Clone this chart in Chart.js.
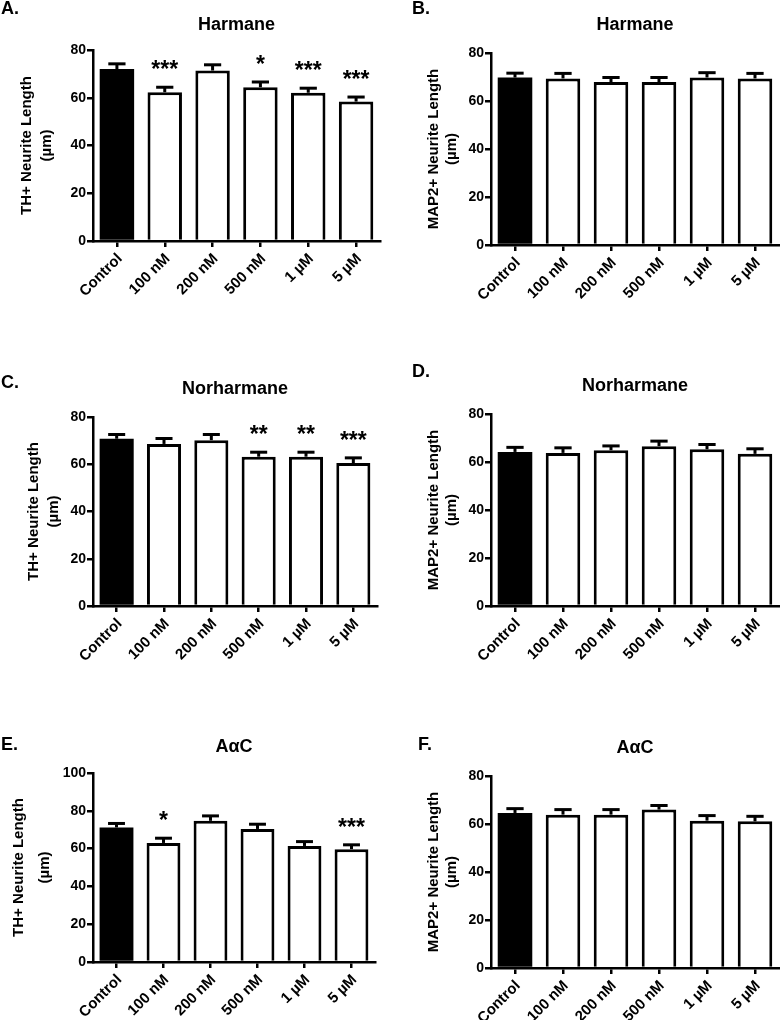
<!DOCTYPE html>
<html><head><meta charset="utf-8">
<script src="https://cdn.jsdelivr.net/npm/chart.js@4.4.1/dist/chart.umd.min.js"></script>
<style>
html,body{margin:0;padding:0;background:#fff;}
#wrap{position:relative;width:780px;height:1020px;overflow:hidden;}
canvas{position:absolute;}
</style></head><body>
<div id="wrap">
<canvas id="cA" width="390" height="335" style="left:0;top:0"></canvas>
<canvas id="cB" width="390" height="335" style="left:390px;top:0"></canvas>
<canvas id="cC" width="390" height="335" style="left:0;top:340px"></canvas>
<canvas id="cD" width="390" height="335" style="left:390px;top:340px"></canvas>
<canvas id="cE" width="390" height="340" style="left:0;top:680px"></canvas>
<canvas id="cF" width="390" height="340" style="left:390px;top:680px"></canvas>
</div>
<script>
// ---- data ----
const categories = ['Control', '100 nM', '200 nM', '500 nM', '1 µM', '5 µM'];

const harmaneTH       = [72.0, 62.3, 71.4, 64.4, 62.1, 58.4];
const harmaneTHsem    = [2.2, 2.1, 2.4, 2.2, 1.9, 1.9];
const harmaneTHsig    = ['', '***', '', '*', '***', '***'];

const harmaneMAP2     = [69.8, 69.4, 67.9, 67.9, 69.8, 69.4];
const harmaneMAP2sem  = [1.8, 2.1, 1.9, 1.9, 2.0, 2.1];
const harmaneMAP2sig  = ['', '', '', '', '', ''];

const norharmaneTH    = [70.8, 68.6, 70.2, 63.2, 63.2, 60.5];
const norharmaneTHsem = [1.8, 2.3, 2.4, 1.9, 1.9, 2.2];
const norharmaneTHsig = ['', '', '', '**', '**', '***'];

const norharmaneMAP2    = [64.2, 63.8, 64.9, 66.6, 65.3, 63.4];
const norharmaneMAP2sem = [1.9, 2.1, 1.8, 2.1, 2.0, 2.1];
const norharmaneMAP2sig = ['', '', '', '', '', ''];

const aacTH     = [71.2, 63.0, 74.7, 70.4, 61.4, 59.7];
const aacTHsem  = [2.1, 2.5, 2.6, 2.5, 2.3, 2.3];
const aacTHsig  = ['', '*', '', '', '', '***'];

const aacMAP2    = [64.6, 63.9, 63.9, 66.0, 61.4, 61.1];
const aacMAP2sem = [1.8, 2.1, 2.1, 1.7, 2.1, 2.1];
const aacMAP2sig = ['', '', '', '', '', ''];

const panelLabels = ['A.', 'B.', 'C.', 'D.', 'E.', 'F.'];
const panelTitles = ['Harmane', 'Harmane', 'Norharmane', 'Norharmane', 'AαC', 'AαC'];
const yTitleTH   = ['TH+ Neurite Length', '(µm)'];
const yTitleMAP2 = ['MAP2+ Neurite Length', '(µm)'];
const yMaxTicks  = [80, 80, 80, 80, 100, 80];
const yStep = 20;

// ---- drawing ----
const FONT = '"Liberation Sans", Arial, Helvetica, sans-serif';

const annotPlugin = {
  id: 'annot',
  afterDatasetsDraw(chart, args, opts) {
    const ctx = chart.ctx;
    const meta = chart.getDatasetMeta(0);
    const ys = chart.scales.y;
    const vals = chart.data.datasets[0].data;
    ctx.save();
    ctx.strokeStyle = '#000';
    ctx.fillStyle = '#000';
    ctx.lineWidth = 3;
    meta.data.forEach((bar, i) => {
      const yTop = ys.getPixelForValue(vals[i] + opts.sem[i]);
      const half = bar.width * 0.25;
      ctx.beginPath();
      ctx.moveTo(bar.x, bar.y);
      ctx.lineTo(bar.x, yTop);
      ctx.stroke();
      ctx.beginPath();
      ctx.moveTo(bar.x - half, yTop);
      ctx.lineTo(bar.x + half, yTop);
      ctx.stroke();
      if (opts.sig[i]) {
        ctx.font = 'bold 23px ' + FONT;
        ctx.textAlign = 'center';
        ctx.textBaseline = 'alphabetic';
        ctx.fillText(opts.sig[i], bar.x, yTop - 10);
      }
    });
    const ca = chart.chartArea;
    ctx.font = 'bold 18px ' + FONT;
    ctx.textAlign = 'center';
    ctx.textBaseline = 'middle';
    ctx.fillText(opts.title, (ca.left + ca.right) / 2, opts.titleY);
    ctx.textAlign = 'left';
    ctx.fillText(opts.label, opts.labelX, opts.labelY);
    ctx.restore();
  }
};

function makePanel(id, idx, values, sem, sig, yTitle, L) {
  const colors = values.map((v, i) => i === 0 ? '#000' : '#fff');
  const borders = values.map((v, i) => i === 0 ? 0 : 3);
  new Chart(document.getElementById(id), {
    type: 'bar',
    data: {
      labels: categories,
      datasets: [{
        data: values,
        backgroundColor: colors,
        borderColor: '#000',
        borderWidth: borders,
        borderSkipped: 'start',
        inflateAmount: 0,
        barPercentage: 0.72,
        categoryPercentage: 1.0
      }]
    },
    options: {
      responsive: false,
      animation: false,
      events: [],
      layout: { padding: { top: L.top, right: L.right, left: 0, bottom: 0 } },
      plugins: {
        legend: { display: false },
        tooltip: { enabled: false },
        annot: { sem: sem, sig: sig, title: panelTitles[idx], titleY: L.titleY,
                 label: panelLabels[idx], labelX: L.labelX, labelY: L.labelY }
      },
      scales: {
        x: {
          offset: true,
          grid: { display: true, offset: false, drawOnChartArea: false, drawTicks: true,
                  tickLength: 6, lineWidth: 2.5, color: '#000' },
          border: { display: true, width: 2.5, color: '#000' },
          ticks: { color: '#000', font: { family: FONT, size: 15, weight: 'bold' },
                   minRotation: 45, maxRotation: 45, autoSkip: false, padding: 3, labelOffset: 3 },
          afterFit(s) { s.height = L.xh; }
        },
        y: {
          min: 0, max: yMaxTicks[idx],
          grid: { display: true, drawOnChartArea: false, drawTicks: true,
                  tickLength: 6, lineWidth: 2.5, color: '#000' },
          border: { display: true, width: 2.5, color: '#000' },
          ticks: { stepSize: yStep, color: '#000', padding: 1,
                   font: { family: FONT, size: 14, weight: 'bold' } },
          title: { display: true, text: yTitle, color: '#000',
                   font: { family: FONT, size: 15, weight: 'bold', lineHeight: L.ytGap / 15 },
                   padding: { top: L.ytLine1 - L.ytGap / 2, bottom: 0 } },
          afterFit(s) { s.width = L.yw; }
        }
      }
    },
    plugins: [annotPlugin]
  });
}

makePanel('cA', 0, harmaneTH, harmaneTHsem, harmaneTHsig, yTitleTH,
  { top: 50, right: 10, yw: 93, xh: 94, titleY: 25, labelX: 1, labelY: 9, ytLine1: 27, ytGap: 20 });
makePanel('cB', 1, harmaneMAP2, harmaneMAP2sem, harmaneMAP2sig, yTitleMAP2,
  { top: 53, right: 1, yw: 101, xh: 90, titleY: 25, labelX: 22, labelY: 9, ytLine1: 43.5, ytGap: 18.7 });
makePanel('cC', 2, norharmaneTH, norharmaneTHsem, norharmaneTHsig, yTitleTH,
  { top: 77, right: 13, yw: 93, xh: 69, titleY: 49, labelX: 1, labelY: 43, ytLine1: 33.7, ytGap: 20.6 });
makePanel('cD', 3, norharmaneMAP2, norharmaneMAP2sem, norharmaneMAP2sig, yTitleMAP2,
  { top: 74, right: 1, yw: 101, xh: 69, titleY: 46, labelX: 22, labelY: 32, ytLine1: 43.5, ytGap: 18.6 });
makePanel('cE', 4, aacTH, aacTHsem, aacTHsig, yTitleTH,
  { top: 93, right: 15, yw: 93, xh: 58, titleY: 67, labelX: 1, labelY: 65, ytLine1: 19.3, ytGap: 26 });
makePanel('cF', 5, aacMAP2, aacMAP2sem, aacMAP2sig, yTitleMAP2,
  { top: 96, right: 1, yw: 101, xh: 52, titleY: 68, labelX: 28, labelY: 65, ytLine1: 43.5, ytGap: 18.8 });
</script>
</body></html>
